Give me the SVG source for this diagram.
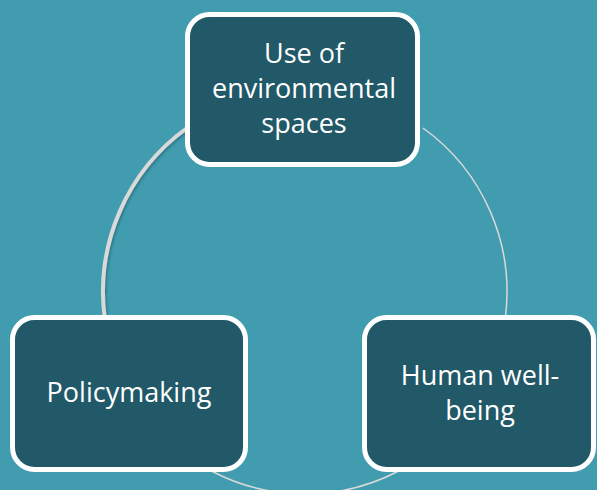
<svg xmlns="http://www.w3.org/2000/svg" width="597" height="490" viewBox="0 0 597 490">
  <defs>
    <style>
      .node rect { fill: #215968; stroke: #ffffff; stroke-width: 5; }
      .node text { fill: #ffffff; font-family: "Open Sans", "Noto Sans", sans-serif; font-size: 27px; text-anchor: middle; }
      .arc { fill: none; stroke: #d9d9d9; }
    </style>
    <filter id="soft" x="-20%" y="-20%" width="140%" height="140%">
      <feDropShadow dx="1.5" dy="1.5" stdDeviation="1.2" flood-color="#1b4a56" flood-opacity="0.45"/>
    </filter>
  </defs>
  <rect width="597" height="490" fill="#419caf"/>
  <!-- cycle connectors on a circle centred at (305,292), r = 202 -->
  <g id="connectors">
    <path class="arc" d="M 187 128 A 202 202 0 0 0 104.7 318" stroke-width="4" filter="url(#soft)"/>
    <path class="arc" d="M 423 128 A 202 202 0 0 1 505.3 318" stroke-width="1.5"/>
    <path class="arc" d="M 398.6 471 A 202 202 0 0 1 211.4 471" stroke-width="1.5"/>
  </g>
  <g id="node-use" class="node">
    <rect x="187.5" y="14.5" width="230" height="150" rx="22"/>
    <text x="304" y="63">Use of</text>
    <text x="304" y="98">environmental</text>
    <text x="304" y="133">spaces</text>
  </g>
  <g id="node-policy" class="node">
    <rect x="12.5" y="317.5" width="233" height="152" rx="22"/>
    <text x="129" y="402">Policymaking</text>
  </g>
  <g id="node-wellbeing" class="node">
    <rect x="364.5" y="317.5" width="229" height="152" rx="22"/>
    <text x="480" y="385">Human well-</text>
    <text x="480" y="420">being</text>
  </g>
</svg>
